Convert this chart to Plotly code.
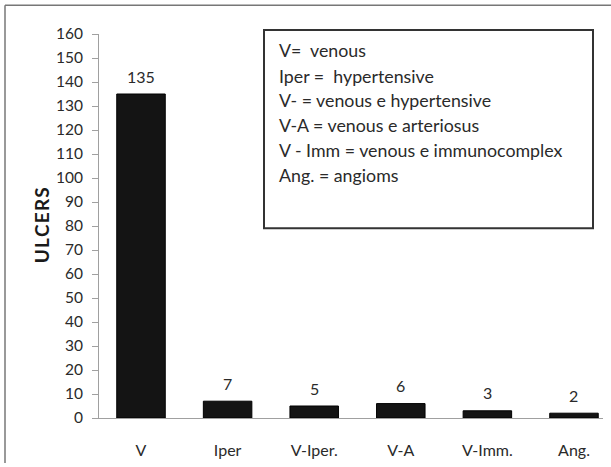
import plotly.graph_objects as go

categories = ["V", "Iper", "V-Iper.", "V-A", "V-Imm.", "Ang."]
ulcers = [135, 7, 5, 6, 3, 2]
y_ticks = list(range(0, 161, 10))
legend_lines = [
    "V=  venous",
    "Iper =  hypertensive",
    "V- = venous e hypertensive",
    "V-A = venous e arteriosus",
    "V - Imm = venous e immunocomplex",
    "Ang. = angioms",
]

W, H = 611, 467
L, R, T, B = 99, 8, 34, 45.5
pw, ph = W - L - R, H - T - B

FONT = "Lato, 'Open Sans', sans-serif"
TXT = "#2a2a2a"

fig = go.Figure()
fig.add_trace(go.Bar(
    x=list(range(len(categories))), y=ulcers,
    width=0.56,
    marker=dict(color="#141414", line=dict(color="#000000", width=1)),
    hoverinfo="skip",
))

annotations = []
for i, v in enumerate(ulcers):
    annotations.append(dict(x=i, y=v, xref="x", yref="y", text=str(v),
                            showarrow=False, yanchor="middle", yshift=18,
                            font=dict(family=FONT, size=16, color=TXT)))

# y axis title
annotations.append(dict(x=(41 - L) / pw, y=(H - B - 227) / ph, xref="paper", yref="paper",
                        text="<b>U L C E R S</b>".replace(" ", "&#8202;"), textangle=-90, showarrow=False,
                        xanchor="center", yanchor="middle",
                        font=dict(family=FONT, size=19, color="#1a1a1a")))

# legend box text lines
line_y = [50, 76, 101, 126, 151, 176]
for txt, yy in zip(legend_lines, line_y):
    annotations.append(dict(x=(277 - L) / pw, y=(H - B - yy) / ph, xref="paper", yref="paper",
                            text=txt, showarrow=False, xanchor="left", yanchor="middle",
                            font=dict(family=FONT, size=17.8, color=TXT)))

shapes = [
    dict(type="rect", xref="paper", yref="paper",
         x0=(264 - L) / pw, x1=(593 - L) / pw,
         y0=(H - B - 230) / ph, y1=(H - B - 30) / ph,
         line=dict(color="#333333", width=2), fillcolor="rgba(0,0,0,0)"),
    # outer frame (top & left edges visible)
    dict(type="line", xref="paper", yref="paper",
         x0=(5 - L) / pw, x1=(W - L) / pw, y0=(H - B - 5) / ph, y1=(H - B - 5) / ph,
         line=dict(color="#777777", width=1.5)),
    dict(type="line", xref="paper", yref="paper",
         x0=(5 - L) / pw, x1=(5 - L) / pw, y0=(H - B - 5) / ph, y1=(H - B - H) / ph,
         line=dict(color="#777777", width=1.5)),
]

fig.update_layout(
    width=W, height=H,
    margin=dict(l=L, r=R, t=T, b=B, pad=0),
    paper_bgcolor="white", plot_bgcolor="white",
    showlegend=False,
    bargap=0.44,
    annotations=annotations,
    shapes=shapes,
    xaxis=dict(
        range=[-0.485, 5.335],
        tickmode="array", tickvals=list(range(len(categories))), ticktext=categories,
        showgrid=False, zeroline=False,
        showline=True, linecolor="#a0a0a0", linewidth=1,
        ticks="", ticklabelstandoff=18,
        tickfont=dict(family=FONT, size=16, color=TXT),
    ),
    yaxis=dict(
        range=[0, 160],
        tickmode="array", tickvals=y_ticks,
        showgrid=False, zeroline=False,
        showline=True, linecolor="#a0a0a0", linewidth=1,
        ticks="outside", ticklen=6, tickcolor="#a0a0a0",
        ticklabelstandoff=6,
        tickfont=dict(family=FONT, size=15.5, color=TXT),
    ),
)

fig.write_html("out.html")
